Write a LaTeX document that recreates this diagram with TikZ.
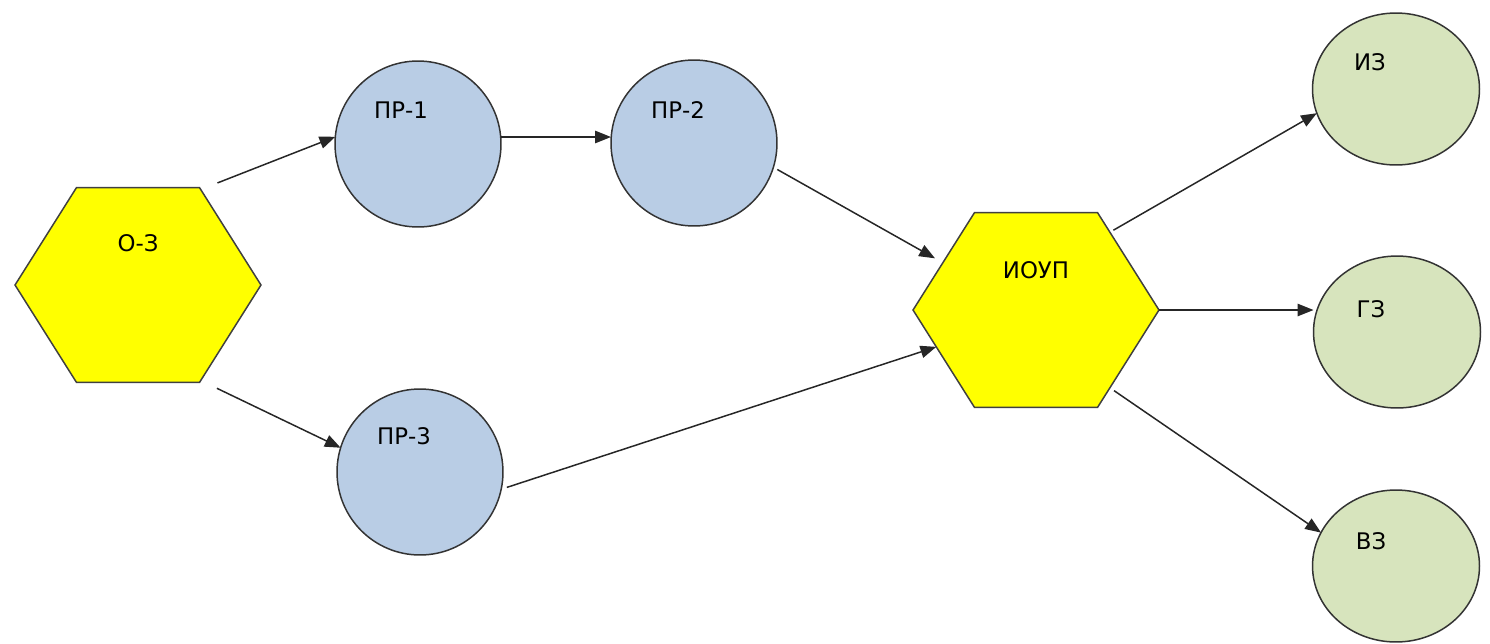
\documentclass[tikz,border=0pt]{standalone}
\usepackage{fontspec}
\setmainfont{DejaVu Sans}
\usepackage{tikz}
\usetikzlibrary{positioning,calc,shapes,arrows.meta}
\definecolor{hexyellow}{HTML}{FFFF00}
\definecolor{prblue}{HTML}{B9CDE5}
\definecolor{zgreen}{HTML}{D7E4BD}
\tikzset{->,>={Triangle[length=9pt,width=7pt]},
x=0.02cm,y=-0.02cm,
hexa/.style={regular polygon,regular polygon sides=6,minimum size=4.92cm,
  inner sep=0pt,outer sep=0pt,fill=hexyellow,draw=black!75,line width=0.85pt,
  yscale=0.915,transform shape},
pr/.style={circle,minimum size=3.32cm,inner sep=0pt,outer sep=0pt,
  fill=prblue,draw=black!80,line width=0.85pt},
zz/.style={ellipse,minimum width=3.34cm,minimum height=3.04cm,inner sep=0pt,
  outer sep=0pt,fill=zgreen,draw=black!80,line width=0.85pt},
lbl/.style={font=\fontsize{13}{15}\selectfont,inner sep=0pt},
el/.style={line width=0.85pt,draw=black!85},
}
\begin{document}
\begin{tikzpicture}
	\useasboundingbox (0,0) rectangle (1490,643);

	\node[hexa] (oz) at (138,285) {};
	\node[pr] (pr1) at (418,144) {};
	\node[pr] (pr2) at (694,143) {};
	\node[pr] (pr3) at (420,472) {};
	\node[hexa] (iou) at (1036,310) {};
	\node[zz] (iz) at (1396,89) {};
	\node[zz] (gz) at (1397,332) {};
	\node[zz] (vz) at (1396,566) {};

	% labels sit in the upper part of each shape
	\node[lbl] at ($(oz)+(0,-42)$) {О-З};
	\node[lbl] at ($(pr1)+(-17,-34)$) {ПР-1};
	\node[lbl] at ($(pr2)+(-16,-33)$) {ПР-2};
	\node[lbl] at ($(pr3)+(-16,-36)$) {ПР-3};
	\node[lbl] at ($(iou)+(0,-40)$) {ИОУП};
	\node[lbl] at ($(iz)+(-26,-27)$) {ИЗ};
	\node[lbl] at ($(gz)+(-26,-23)$) {ГЗ};
	\node[lbl] at ($(vz)+(-25,-25)$) {ВЗ};

	\path
	(oz.59) edge[el,shorten <=0.36cm] (pr1.175)
	(oz.-59) edge[el,shorten <=0.36cm] (pr3.163)
	(pr1.east |- 0,137) edge[el] (pr2.west |- 0,137)
	(pr2.-17) edge[el,shorten <=0.09cm,shorten >=0.18cm] (iou.151)
	(pr3.-12) edge[el,shorten <=0.12cm] (iou.202)
	(iou.49) edge[el,shorten <=0.08cm] (iz.197)
	(iou.east) edge[el] (iou.east -| gz.west)
	(iou.-49) edge[el,shorten <=0.1cm] (vz.156)
	;
\end{tikzpicture}
\end{document}
